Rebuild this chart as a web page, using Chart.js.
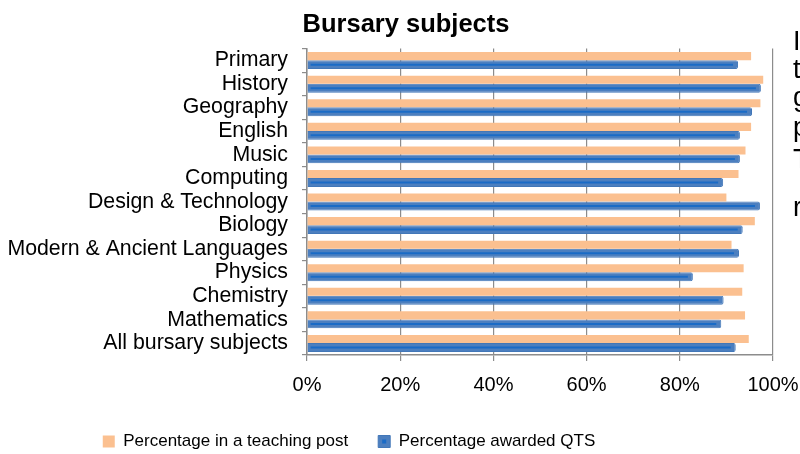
<!DOCTYPE html>
<html>
<head>
<meta charset="utf-8">
<script src="https://cdn.jsdelivr.net/npm/chart.js@4/dist/chart.umd.min.js"></script>
<style>
  html, body { margin: 0; padding: 0; background: #fff; }
  #wrap { position: relative; width: 800px; height: 454px; overflow: hidden; }
  #side { position: absolute; left: 793px; top: 0; font-family: "Liberation Sans", Arial, sans-serif; font-size: 27px; line-height: 27px; color: #000; }
  #side span { position: absolute; left: 0; white-space: nowrap; }
</style>
</head>
<body>
<div id="wrap">
  <canvas id="c" width="800" height="454"></canvas>
  <div id="side">
    <span style="top:28px">I</span>
    <span style="top:56px">t</span>
    <span style="top:84px">g</span>
    <span style="top:114px;text-decoration:underline">p</span>
    <span style="top:146px">T</span>
    <span style="top:194px">r</span>
  </div>
</div>
<script>
const categories = ['Primary', 'History', 'Geography', 'English', 'Music', 'Computing',
  'Design & Technology', 'Biology', 'Modern & Ancient Languages', 'Physics', 'Chemistry',
  'Mathematics', 'All bursary subjects'];
const teachingPost = [95.3, 97.9, 97.3, 95.3, 94.1, 92.6, 90.0, 96.1, 91.1, 93.7, 93.4, 94.0, 94.8];
const awardedQTS   = [92.5, 97.4, 95.5, 92.9, 92.9, 89.3, 97.2, 93.5, 92.7, 82.8, 89.4, 88.9, 92.0];
const xTickLabels = ['0%', '20%', '40%', '60%', '80%', '100%'];

const FONT = '"Liberation Sans", Arial, sans-serif';
const LEGEND_DX = -51, LEGEND_DY = 10;

const tweakPlugin = {
  id: 'tweak',
  afterLayout(chart) {
    const lg = chart.legend;
    if (lg) {
      lg.left += LEGEND_DX; lg.right += LEGEND_DX;
      lg.top += LEGEND_DY; lg.bottom += LEGEND_DY;
      (lg.legendHitBoxes || []).forEach(hb => { hb.left += LEGEND_DX; });
    }
    const t = chart.titleBlock;
    if (t) { t.left += 6; t.right += 6; }
  },
  afterDatasetsDraw(chart) {
    const ctx = chart.ctx;
    const meta = chart.getDatasetMeta(1);
    ctx.save();
    ctx.strokeStyle = '#1a6bc6';
    ctx.lineWidth = 2;
    meta.data.forEach(el => {
      const x0 = Math.min(el.base, el.x) + 3;
      const x1 = Math.max(el.base, el.x) - 5;
      ctx.beginPath();
      ctx.moveTo(x0, el.y);
      ctx.lineTo(x1, el.y);
      ctx.stroke();
    });
    ctx.restore();
  },
  afterDraw(chart) {
    const lg = chart.legend;
    if (!lg || !lg.legendHitBoxes || !lg.legendHitBoxes[1]) return;
    const hb = lg.legendHitBoxes[1];
    const ctx = chart.ctx;
    const bw = 12;
    const cy = hb.top + hb.height / 2;
    ctx.save();
    ctx.fillStyle = '#1a6bc6';
    ctx.fillRect(hb.left + bw / 2 - 2, cy - 2, 4, 4);
    ctx.restore();
  }
};

new Chart(document.getElementById('c'), {
  type: 'bar',
  data: {
    labels: categories,
    datasets: [
      {
        label: 'Percentage in a teaching post',
        data: teachingPost,
        backgroundColor: '#fbc090',
        borderColor: '#fbc090',
        borderWidth: 0,
        categoryPercentage: 0.72,
        barPercentage: 0.95
      },
      {
        label: 'Percentage awarded QTS',
        data: awardedQTS,
        backgroundColor: '#4c7fbf',
        borderColor: '#4277b8',
        borderWidth: 1,
        borderRadius: 2,
        borderSkipped: 'start',
        categoryPercentage: 0.72,
        barPercentage: 1.05
      }
    ]
  },
  plugins: [tweakPlugin],
  options: {
    indexAxis: 'y',
    responsive: false,
    animation: false,
    devicePixelRatio: 1,
    layout: { padding: { top: 2, left: 0, right: 0, bottom: 4 } },
    plugins: {
      title: {
        display: true,
        text: 'Bursary subjects',
        color: '#000',
        font: { family: FONT, size: 25.5, weight: 'bold' },
        padding: { top: 8, bottom: 8 }
      },
      legend: {
        position: 'bottom',
        labels: {
          color: '#000',
          font: { family: FONT, size: 17 },
          boxWidth: 12,
          boxHeight: 12,
          padding: 30
        }
      },
      tooltip: { enabled: false }
    },
    scales: {
      x: {
        min: 0,
        max: 100,
        ticks: {
          stepSize: 20,
          color: '#000',
          font: { family: FONT, size: 20 },
          padding: 12,
          callback: (v) => xTickLabels[Math.round(v / 20)]
        },
        grid: { color: '#8c8c8c', lineWidth: 1.2, tickLength: 6, drawTicks: true },
        border: { color: '#8c8c8c', width: 1.5 },
        afterFit(scale) { scale.height = 38; scale.paddingRight = 27; scale.paddingLeft = 0; }
      },
      y: {
        ticks: {
          color: '#000',
          font: { family: FONT, size: 21.3, lineHeight: 1 },
          autoSkip: false,
          padding: 14
        },
        grid: { drawOnChartArea: false, color: '#8c8c8c', tickLength: 5, lineWidth: 1.2 },
        border: { color: '#8c8c8c', width: 1.5 },
        afterFit(scale) { scale.width = 307; }
      }
    }
  }
});
</script>
</body>
</html>
